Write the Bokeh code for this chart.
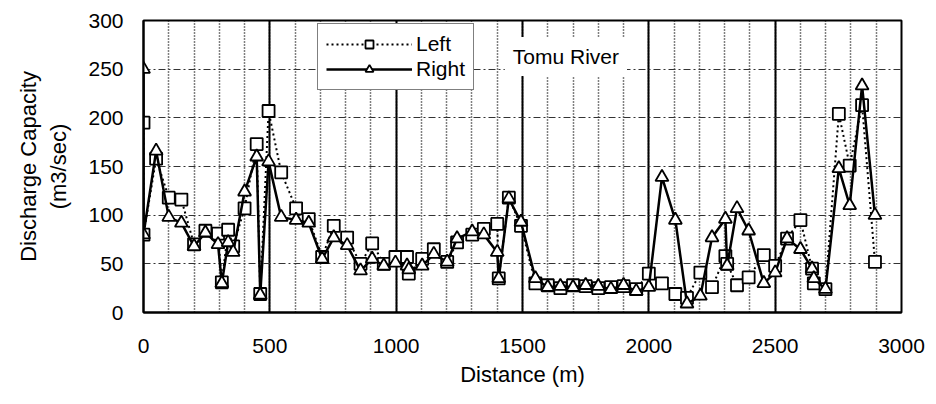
from bokeh.plotting import figure
from bokeh.models import (SingleIntervalTicker, Legend, LegendItem, Label, Range1d)
from bokeh.embed import file_html
from bokeh.resources import INLINE

distance = [0, 0, 50, 100, 150, 200, 245, 295, 310, 335, 355, 400, 448, 462, 495,
            545, 604, 654, 707, 753, 806, 859, 905, 951, 997, 1043, 1050, 1103, 1149,
            1202, 1241, 1301, 1347, 1400, 1406, 1446, 1494, 1551, 1600, 1650, 1700,
            1750, 1800, 1850, 1900, 1950, 2000, 2052, 2105, 2151, 2204, 2250, 2303,
            2310, 2349, 2395, 2455, 2500, 2547, 2600, 2646, 2653, 2699, 2752, 2795,
            2844, 2895]
left = [195, 80, 158, 118, 116, 70, 84, 81, 31, 85, 68, 107, 173, 19, 207,
        144, 107, 96, 57, 89, 77, 50, 71, 50, 57, 57, 40, 55, 65,
        52, 72, 80, 86, 91, 35, 118, 89, 30, 28, 25, 28,
        27, 25, 26, 27, 24, 40, 30, 19, 15, 41, 26, 58,
        50, 28, 36, 59, 48, 76, 95, 45, 30, 24, 204, 151,
        213, 52]
right = [250, 80, 166, 98, 92, 68, 82, 70, 30, 72, 62, 124, 160, 18, 155,
         98, 95, 92, 55, 77, 69, 43, 55, 48, 51, 48, 44, 48, 60,
         52, 76, 83, 80, 62, 35, 117, 93, 35, 26, 27, 26,
         28, 27, 24, 28, 22, 26, 139, 95, 9, 17, 77, 96,
         48, 107, 84, 30, 41, 76, 65, 45, 35, 24, 148, 110,
         233, 100]

FONT = "Liberation Sans"

p = figure(width=936, height=404, output_backend="svg", toolbar_location=None,
           x_range=Range1d(0, 3000), y_range=Range1d(0, 300),
           min_border_left=143, min_border_right=35, min_border_top=20,
           min_border_bottom=92)
p.background_fill_color = "white"
p.border_fill_color = "white"
p.outline_line_color = "black"
p.outline_line_width = 2

p.xaxis.ticker = SingleIntervalTicker(interval=500, num_minor_ticks=5)
p.yaxis.ticker = SingleIntervalTicker(interval=50, num_minor_ticks=0)

for ax in (p.xaxis[0], p.yaxis[0]):
    ax.axis_line_color = "black"
    ax.axis_line_width = 2
    ax.major_tick_line_color = None
    ax.minor_tick_line_color = None
    ax.major_tick_out = 0
    ax.major_tick_in = 0
    ax.minor_tick_out = 0
    ax.major_label_text_font = FONT
    ax.major_label_text_font_size = "21px"
    ax.major_label_text_color = "black"
    ax.axis_label_text_font = FONT
    ax.axis_label_text_font_size = "22px"
    ax.axis_label_text_font_style = "normal"
    ax.axis_label_text_color = "black"

p.xaxis.major_label_standoff = 26
p.yaxis.major_label_standoff = 20
p.xaxis.axis_label = "Distance (m)"
p.xaxis.axis_label_standoff = 6
p.yaxis.axis_label = "Discharge Capacity\n(m3/sec)"
p.yaxis.axis_label_standoff = 14

p.xgrid.grid_line_color = "black"
p.xgrid.grid_line_width = 2
p.xgrid.minor_grid_line_color = "black"
p.xgrid.minor_grid_line_dash = "1 2"
p.xgrid.minor_grid_line_width = 1.5
p.ygrid.grid_line_color = "#333333"
p.ygrid.grid_line_dash = "7 3 2 3"
p.ygrid.grid_line_width = 1.2

l_line = p.line(distance, left, line_color="black", line_width=2, line_dash="2 3")
l_pts = p.scatter(distance, left, marker="square", size=12, fill_color="white",
                  line_color="black", line_width=1.8)
r_line = p.line(distance, right, line_color="black", line_width=2.5)
r_pts = p.scatter(distance, right, marker="triangle", size=13, fill_color="white",
                  line_color="black", line_width=1.8)

legend = Legend(items=[LegendItem(label="Left", renderers=[l_line, l_pts]),
                       LegendItem(label="Right", renderers=[r_line, r_pts])],
                location=(174, 222), orientation="vertical")
legend.label_text_font = FONT
legend.label_text_font_size = "21px"
legend.label_text_color = "black"
legend.glyph_width = 86
legend.glyph_height = 20
legend.label_standoff = 4
legend.label_height = 20
legend.padding = 8
legend.spacing = 1
legend.margin = 0
legend.border_line_color = "black"
legend.border_line_width = 1
legend.background_fill_color = "white"
legend.background_fill_alpha = 1
p.add_layout(legend)

river = Label(x=1430, y=263, text="Tomu River", text_baseline="middle",
              text_font=FONT, text_font_size="21px", text_color="black",
              background_fill_color="white", background_fill_alpha=1, padding=8)
p.add_layout(river)

open("out.html", "w").write(file_html(p, INLINE))
